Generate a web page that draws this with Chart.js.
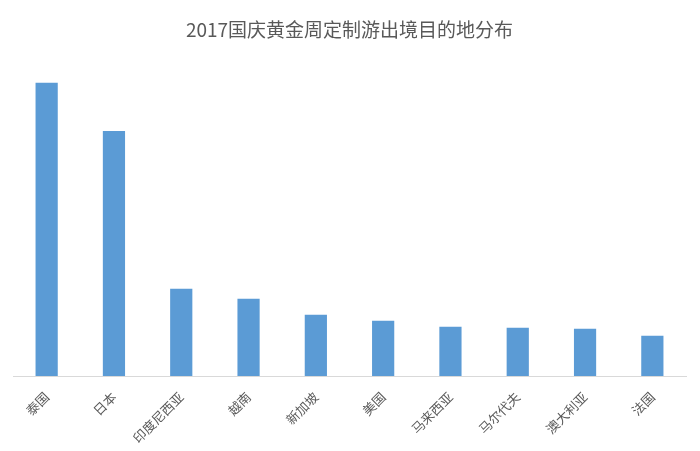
<!DOCTYPE html>
<html>
<head>
  <meta charset="utf-8">
  <title>2017国庆黄金周定制游出境目的地分布</title>
  <script src="https://cdn.jsdelivr.net/npm/chart.js"></script>
  <style>
    body { margin: 0; background: #fff; }
  </style>
</head>
<body>
  <canvas id="myChart" width="700" height="451"></canvas>

  <script>
    // (relative share, no axis shown)
    const countries = ['泰国', '日本', '印度尼西亚', '越南', '新加坡', '美国', '马来西亚', '马尔代夫', '澳大利亚', '法国'];
    const shares = [29.2, 24.4, 8.7, 7.7, 6.1, 5.5, 4.9, 4.8, 4.7, 4.0];

    const fontFamily = '"Noto Sans CJK SC", "Noto Sans", sans-serif';

    const ctx = document.getElementById('myChart').getContext('2d');
    const chart = new Chart(ctx, {
      type: 'bar',
      data: {
        labels: countries,
        datasets: [{
          label: '占比',
          data: shares,
          backgroundColor: '#5b9bd5',
          barPercentage: 0.66,
          categoryPercentage: 0.5
        }]
      },
      options: {
        responsive: false,
        animation: false,
        layout: { padding: { left: 13, right: 14, top: 0, bottom: 0 } },
        plugins: {
          legend: { display: false },
          tooltip: { enabled: false },
          title: {
            display: true,
            text: '2017国庆黄金周定制游出境目的地分布',
            color: '#595959',
            font: { family: fontFamily, size: 19, weight: 'normal' },
            padding: { top: 18, bottom: 34 }
          }
        },
        scales: {
          x: {
            grid: { display: false },
            border: { display: true, color: '#d9d9d9', width: 1 },
            ticks: {
              color: '#595959',
              font: { family: fontFamily, size: 13 },
              minRotation: 45,
              maxRotation: 45,
              padding: 5
            }
          },
          y: {
            display: false,
            min: 0,
            max: 30
          }
        }
      }
    });
  </script>
</body>
</html>
